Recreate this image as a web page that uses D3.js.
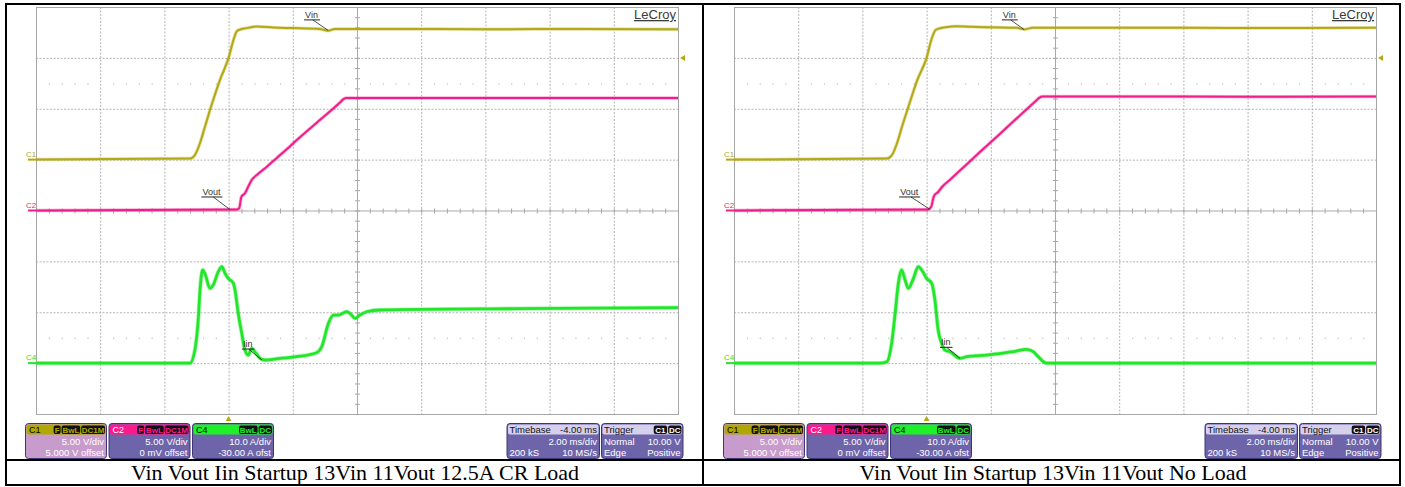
<!DOCTYPE html>
<html><head><meta charset="utf-8">
<script src="https://cdn.jsdelivr.net/npm/d3@7"></script>
<style>
html,body{margin:0;padding:0;background:#fff;}
svg{display:block;}
</style></head><body>
<svg id="chart" width="1405" height="487"></svg>
<script>
// ---- Captured waveforms (time in ms relative to trigger) ----
// 12.5 A CR load
const crVinTime  = [-6, -1.2, -1.05, -0.89, -0.74, -0.58, -0.27, 0, 0.17, 0.26, 0.36, 0.6, 0.88, 1.4, 2.0, 2.85, 3.1, 3.31, 5, 8, 11, 14];
const crVinVolts = [0, 0.1, 0.45, 1.63, 3.2, 4.87, 7.82, 10.0, 11.95, 12.64, 12.79, 12.95, 13.08, 12.98, 12.93, 12.84, 12.67, 12.84, 12.84, 12.82, 12.84, 12.82];
const crVoutTime  = [-6, 0.25, 0.33, 0.40, 0.51, 0.61, 0.72, 0.88, 1.19, 1.50, 1.91, 2.17, 2.85, 3.47, 3.58, 3.68, 6, 10, 14];
const crVoutVolts = [0, 0.1, 0.22, 1.36, 1.69, 2.34, 3.0, 3.49, 4.3, 5.16, 6.3, 7.05, 8.91, 10.62, 10.95, 11.06, 11.06, 11.05, 11.06];
const crIinTime = [-6, -1.2, -1.05, -0.94, -0.89, -0.81, -0.74, -0.58, -0.48, -0.32, -0.21, -0.11, -0.01, 0.15, 0.20, 0.30, 0.41, 0.51, 0.61, 0.72, 0.82, 0.98, 1.13, 1.60, 2.12, 2.74, 2.90, 3.11, 3.26, 3.42, 3.68, 3.78, 3.94, 4.09, 4.30, 4.72, 9, 14];
const crIinAmps = [0, 0, 2.57, 9.12, 14.37, 18.3, 17.65, 14.7, 15.35, 17.97, 18.95, 17.65, 16.67, 15.69, 14.37, 9.79, 5.86, 2.57, 1.59, 2.91, 2.24, 0.94, 0.61, 0.94, 1.26, 2.04, 3.22, 7.82, 9.45, 9.45, 10.1, 9.79, 8.8, 9.45, 10.1, 10.44, 10.7, 10.9];

// No load
const nlVinTime  = [-6, -1.25, -1.08, -0.92, -0.77, -0.6, -0.29, 0, 0.17, 0.27, 0.38, 0.6, 0.9, 1.4, 2.0, 2.8, 3.05, 3.3, 5, 8, 11, 14];
const nlVinVolts = [0, 0.1, 0.45, 1.63, 3.2, 4.87, 7.82, 10.0, 12.0, 12.7, 12.88, 13.02, 13.12, 13.05, 13.0, 12.95, 12.8, 12.95, 12.95, 12.95, 12.93, 12.95];
const nlVoutTime  = [-6, 0.04, 0.14, 0.23, 0.36, 0.48, 0.73, 1.04, 1.66, 2.29, 2.91, 3.41, 3.52, 3.62, 6, 10, 14];
const nlVoutVolts = [0, 0.1, 0.34, 1.43, 1.82, 2.31, 3.03, 3.93, 5.74, 7.55, 9.35, 10.79, 11.1, 11.2, 11.2, 11.18, 11.2];
const nlIinTime = [-6, -1.45, -1.24, -1.09, -0.98, -0.88, -0.78, -0.67, -0.57, -0.41, -0.26, -0.15, 0.0, 0.16, 0.26, 0.36, 0.47, 0.57, 0.73, 1.04, 1.25, 1.87, 2.70, 3.12, 3.32, 3.48, 3.64, 3.74, 14];
const nlIinAmps = [0, 0, 0.28, 3.87, 9.77, 15.67, 18.3, 16.33, 14.7, 16.67, 18.95, 18.3, 16.67, 15.69, 12.37, 6.5, 3.87, 2.57, 2.24, 0.94, 1.26, 1.59, 2.24, 2.71, 2.24, 1.26, 0.28, 0, 0];

// ---- Scope settings ----
const channelNames   = ["C1", "C2", "C4"];
const unitsPerDiv    = [5, 5, 10];
const channelOffsets = [5, 0, -30];
const channelScaleText  = ["5.00 V/div", "5.00 V/div", "10.0 A/div"];
const channelOffsetText = ["5.000 V offset", "0 mV offset", "-30.00 A ofst"];
const channelBadges  = [["F", "BwL", "DC1M"], ["F", "BwL", "DC1M"], ["BwL", "DC"]];
const timeRange      = [-6, 14];
const timeDivs       = 10;
const timebaseText   = ["Timebase", "-4.00 ms", "2.00 ms/div", "200 kS", "10 MS/s"];
const triggerText    = ["Trigger", "Normal", "10.00 V", "Edge", "Positive"];
const triggerBadges  = ["C1", "DC"];
const triggerLevel   = 10;
const traceLabels    = ["Vin", "Vout", "Iin"];
const captions = ["Vin Vout Iin Startup 13Vin 11Vout 12.5A CR Load",
                  "Vin Vout Iin Startup 13Vin 11Vout No Load"];

// ---- Styling ----
const chColor   = ["#b3a914", "#f01e8a", "#22e62a"];
const hdrColor  = ["#b0a800", "#ff1a8c", "#1ef028"];
const hdrText   = ["#000", "#fff", "#000"];
const bodyColor = ["#c89bcd", "#6e64aa", "#6e64aa"];
const boxStroke = "#3e3672";
const sans = "'Liberation Sans', Arial, sans-serif";

const svg = d3.select("#chart");
const gridTop = 7, gridBottom = 414;

const panels = [
  { gx0: 36,  gx1: 678,  caption: captions[0],
    traces: [[crVinTime, crVinVolts], [crVoutTime, crVoutVolts], [crIinTime, crIinAmps]],
    notes: [ {ch: 0, t: 3.10, v: 12.7, dx: -23, dy: -12.5},
             {ch: 1, t: 0.04, v: 0.1,  dx: -27.5, dy: -14.5},
             {ch: 2, t: 1.04, v: 0.6,  dx: -19, dy: -13} ] },
  { gx0: 734, gx1: 1376, caption: captions[1],
    traces: [[nlVinTime, nlVinVolts], [nlVoutTime, nlVoutVolts], [nlIinTime, nlIinAmps]],
    notes: [ {ch: 0, t: 3.03, v: 12.8, dx: -21, dy: -11.5},
             {ch: 1, t: 0.11, v: 0.1,  dx: -30, dy: -14.5},
             {ch: 2, t: 1.04, v: 0.94, dx: -19, dy: -13} ] }
];

function drawPanel(p) {
  const g = svg.append("g");
  const x = d3.scaleLinear().domain(timeRange).range([p.gx0, p.gx1]);
  const ys = channelNames.map((c, i) => {
    const centre = -channelOffsets[i];
    return d3.scaleLinear()
      .domain([centre - 4 * unitsPerDiv[i], centre + 4 * unitsPerDiv[i]])
      .range([gridBottom, gridTop]);
  });
  const yDiv = d3.scaleLinear().domain([-4, 4]).range([gridBottom, gridTop]);
  const step = (timeRange[1] - timeRange[0]) / timeDivs;
  const majorT = d3.range(timeRange[0], timeRange[1] + 1e-6, step);
  const minorT = d3.range(timeRange[0], timeRange[1] + 1e-6, step / 5);
  const centreT = (timeRange[0] + timeRange[1]) / 2;

  // graticule
  const grid = g.append("g");
  grid.selectAll(".vg").data(majorT.slice(1, -1).filter(t => Math.abs(t - centreT) > 1e-6)).join("line")
    .attr("x1", d => x(d) + 0.5).attr("x2", d => x(d) + 0.5)
    .attr("y1", gridTop).attr("y2", gridBottom)
    .attr("stroke", "#b4b4b4").attr("stroke-dasharray", "2,1.5");
  grid.selectAll(".hg").data(d3.range(-3, 4).filter(d => d !== 0)).join("line")
    .attr("x1", p.gx0).attr("x2", p.gx1)
    .attr("y1", d => yDiv(d) + 0.5).attr("y2", d => yDiv(d) + 0.5)
    .attr("stroke", "#b4b4b4").attr("stroke-dasharray", "2,1.5");
  // faint dot rows
  [-2.5, 2.5].forEach(r => {
    grid.selectAll(null).data(minorT.filter((t, i) => i % 5 !== 0)).join("rect")
      .attr("x", d => x(d)).attr("y", yDiv(r)).attr("width", 1.2).attr("height", 1.2)
      .attr("fill", "#bdbdbd");
  });
  // centre axes with minor ticks
  grid.append("line").attr("x1", p.gx0).attr("x2", p.gx1)
    .attr("y1", yDiv(0) + 0.5).attr("y2", yDiv(0) + 0.5).attr("stroke", "#a8a8a8");
  grid.append("line").attr("x1", x(centreT) + 0.5).attr("x2", x(centreT) + 0.5)
    .attr("y1", gridTop).attr("y2", gridBottom).attr("stroke", "#a8a8a8");
  grid.selectAll(".tx").data(minorT).join("line")
    .attr("x1", d => x(d) + 0.5).attr("x2", d => x(d) + 0.5)
    .attr("y1", yDiv(0) - 2).attr("y2", yDiv(0) + 3).attr("stroke", "#a8a8a8");
  grid.selectAll(".ty").data(d3.range(-4, 4.001, 0.2)).join("line")
    .attr("x1", x(centreT) - 2).attr("x2", x(centreT) + 3)
    .attr("y1", d => yDiv(d) + 0.5).attr("y2", d => yDiv(d) + 0.5).attr("stroke", "#a8a8a8");
  grid.append("rect").attr("x", p.gx0 + 0.5).attr("y", gridTop + 0.5)
    .attr("width", p.gx1 - p.gx0).attr("height", gridBottom - gridTop)
    .attr("fill", "none").attr("stroke", "#a6a6a6");

  // LeCroy mark
  g.append("text").attr("x", p.gx1 - 2).attr("y", 19).attr("text-anchor", "end")
    .attr("font-family", sans).attr("font-size", 13).attr("fill", "#3a3a3a")
    .attr("text-decoration", "underline").text("LeCroy");

  // channel ground markers
  channelNames.forEach((c, i) => {
    const y0 = ys[i](0);
    g.append("line").attr("x1", p.gx0 - 8).attr("x2", p.gx0).attr("y1", y0).attr("y2", y0)
      .attr("stroke", chColor[i]).attr("stroke-width", 2);
    g.append("text").attr("x", p.gx0 - 10).attr("y", y0 - 3).attr("font-family", sans)
      .attr("font-size", 8).attr("fill", chColor[i]).text(c);
  });

  // traces
  const widths = [2, 2, 2.8];
  p.traces.forEach(([ts, vs], i) => {
    const pts = ts.map((t, k) => [t, vs[k]]);
    const line = d3.line().x(d => x(d[0])).y(d => ys[i](d[1])).curve(d3.curveMonotoneX);
    g.append("path").attr("d", line(pts)).attr("fill", "none")
      .attr("stroke", chColor[i]).attr("stroke-opacity", 0.35).attr("stroke-width", widths[i] + 1.5);
    g.append("path").attr("d", line(pts)).attr("fill", "none")
      .attr("stroke", chColor[i]).attr("stroke-width", widths[i]).attr("stroke-linejoin", "round");
  });

  // trace annotations
  p.notes.forEach(n => {
    const tx = x(n.t), ty = ys[n.ch](n.v);
    const lx = tx + n.dx, ly = ty + n.dy;
    const txt = g.append("text").attr("x", lx).attr("y", ly).attr("font-family", sans)
      .attr("font-size", 9).attr("fill", "#333").text(traceLabels[n.ch]);
    const w = txt.node().getComputedTextLength();
    g.append("line").attr("x1", lx - 1).attr("x2", lx + w + 2).attr("y1", ly + 2).attr("y2", ly + 2)
      .attr("stroke", "#222").attr("stroke-width", 1);
    g.append("line").attr("x1", lx + w * 0.6).attr("x2", tx).attr("y1", ly + 2).attr("y2", ty)
      .attr("stroke", "#222").attr("stroke-width", 0.8);
  });

  // trigger markers
  const ty = ys[0](triggerLevel);
  g.append("path").attr("d", `M${p.gx1 + 2},${ty} L${p.gx1 + 7},${ty - 3} L${p.gx1 + 7},${ty + 3} Z`)
    .attr("fill", chColor[0]);
  const tx0 = x(0);
  g.append("path").attr("d", `M${tx0},${gridBottom + 2} L${tx0 - 3},${gridBottom + 7} L${tx0 + 3},${gridBottom + 7} Z`)
    .attr("fill", chColor[0]);

  // info boxes
  const by = 423, bh = 35;
  const chBoxX = [p.gx0 - 11, p.gx0 + 72.5, p.gx0 + 156];
  const chBoxW = 81;
  channelNames.forEach((c, i) => {
    const bx = chBoxX[i];
    const b = g.append("g");
    b.append("rect").attr("x", bx + 0.5).attr("y", by + 0.5).attr("width", chBoxW).attr("height", bh)
      .attr("rx", 3).attr("fill", bodyColor[i]).attr("stroke", boxStroke);
    b.append("rect").attr("x", bx + 1.5).attr("y", by + 1.5).attr("width", chBoxW - 2).attr("height", 10)
      .attr("rx", 2).attr("fill", hdrColor[i]);
    b.append("text").attr("x", bx + 4).attr("y", by + 10).attr("font-family", sans).attr("font-size", 9)
      .attr("fill", hdrText[i]).text(c);
    let bxr = bx + chBoxW - 1;
    channelBadges[i].slice().reverse().forEach(s => {
      const tw = s.length === 1 ? 4 : s.length * 5.2;
      const w = tw + 3;
      bxr -= w;
      b.append("rect").attr("x", bxr).attr("y", by + 2.5).attr("width", w).attr("height", 8.5)
        .attr("rx", 2).attr("fill", "#111");
      b.append("text").attr("x", bxr + w / 2).attr("y", by + 9.8).attr("text-anchor", "middle")
        .attr("font-family", sans).attr("font-size", 8).attr("font-weight", "bold")
        .attr("fill", hdrColor[i]).text(s);
      bxr -= 1;
    });
    b.append("text").attr("x", bx + chBoxW - 2).attr("y", by + 22).attr("text-anchor", "end")
      .attr("font-family", sans).attr("font-size", 9.5).attr("fill", "#fff").text(channelScaleText[i]);
    b.append("text").attr("x", bx + chBoxW - 2).attr("y", by + 33).attr("text-anchor", "end")
      .attr("font-family", sans).attr("font-size", 9.5).attr("fill", "#fff").text(channelOffsetText[i]);
  });

  function sysBox(bx, bw, rows, badges) {
    const b = g.append("g");
    b.append("rect").attr("x", bx + 0.5).attr("y", by + 0.5).attr("width", bw).attr("height", bh)
      .attr("rx", 3).attr("fill", "#6e64aa").attr("stroke", boxStroke);
    b.append("rect").attr("x", bx + 1.5).attr("y", by + 1.5).attr("width", bw - 2).attr("height", 10)
      .attr("rx", 2).attr("fill", "#d6d0ec");
    const t = (xx, yy, s, anchor, col) => b.append("text").attr("x", xx).attr("y", yy)
      .attr("text-anchor", anchor).attr("font-family", sans).attr("font-size", 9.5)
      .attr("fill", col).text(s);
    rows.forEach(r => t(r[0] === "l" ? bx + 3 : bx + bw - 2, by + r[1], r[2], r[0] === "l" ? "start" : "end", r[3]));
    if (badges) {
      let bxr = bx + bw - 1;
      badges.slice().reverse().forEach(s => {
        const w = s.length * 5.2 + 3;
        bxr -= w;
        b.append("rect").attr("x", bxr).attr("y", by + 2.5).attr("width", w).attr("height", 8.5)
          .attr("rx", 2).attr("fill", "#111");
        b.append("text").attr("x", bxr + w / 2).attr("y", by + 9.8).attr("text-anchor", "middle")
          .attr("font-family", sans).attr("font-size", 8).attr("font-weight", "bold")
          .attr("fill", "#fff").text(s);
        bxr -= 1;
      });
    }
  }
  sysBox(p.gx0 + 470.5, 92.5, [
    ["l", 10, timebaseText[0], "#111"], ["r", 10, timebaseText[1], "#111"],
    ["r", 22, timebaseText[2], "#fff"], ["l", 33, timebaseText[3], "#fff"], ["r", 33, timebaseText[4], "#fff"]
  ]);
  sysBox(p.gx0 + 565, 81.5, [
    ["l", 10, triggerText[0], "#111"],
    ["l", 22, triggerText[1], "#fff"], ["r", 22, triggerText[2], "#fff"],
    ["l", 33, triggerText[3], "#fff"], ["r", 33, triggerText[4], "#fff"]
  ], triggerBadges);

  // caption
  g.append("text").attr("x", (p.gx0 + p.gx1) / 2 - 2).attr("y", 480).attr("text-anchor", "middle")
    .attr("font-family", "'Liberation Serif', 'Times New Roman', serif").attr("font-size", 22)
    .attr("fill", "#000").text(p.caption);
}

panels.forEach(drawPanel);

// table frame
const frame = svg.append("g").attr("stroke", "#000").attr("stroke-width", 2);
frame.append("line").attr("x1", 5).attr("x2", 1401).attr("y1", 4).attr("y2", 4);
frame.append("line").attr("x1", 5).attr("x2", 1401).attr("y1", 460).attr("y2", 460);
frame.append("line").attr("x1", 5).attr("x2", 1401).attr("y1", 485).attr("y2", 485);
frame.append("line").attr("x1", 6).attr("x2", 6).attr("y1", 3).attr("y2", 486);
frame.append("line").attr("x1", 703).attr("x2", 703).attr("y1", 3).attr("y2", 486);
frame.append("line").attr("x1", 1400).attr("x2", 1400).attr("y1", 3).attr("y2", 486);
</script>
</body></html>
